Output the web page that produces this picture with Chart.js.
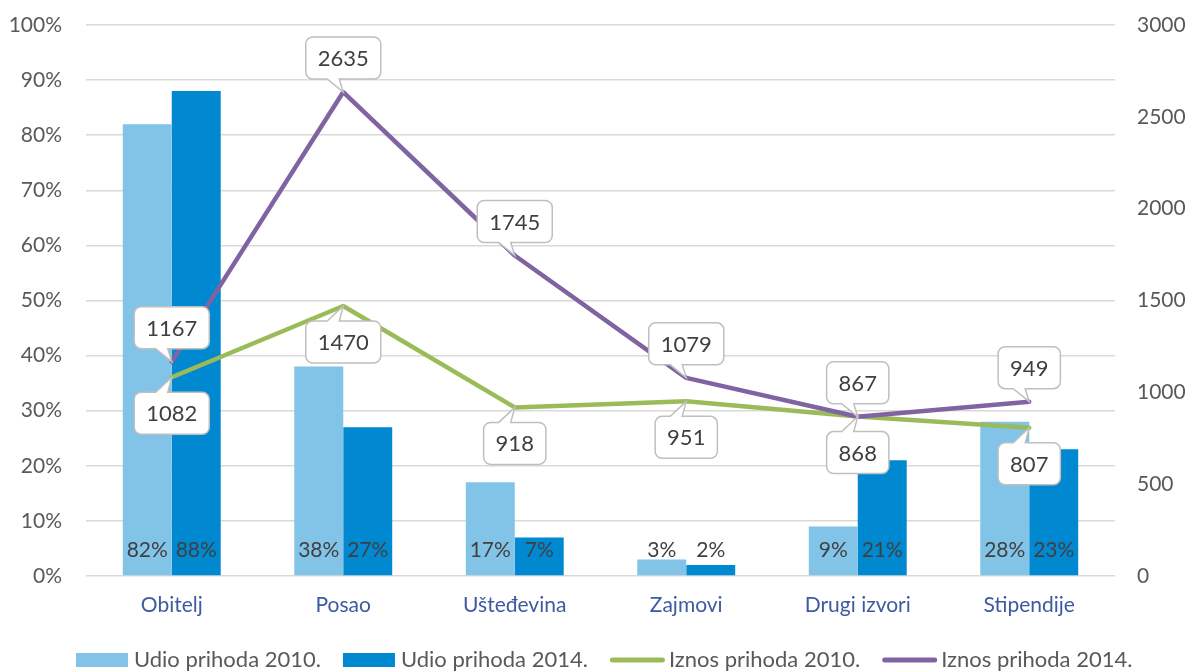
<!DOCTYPE html>
<html><head><meta charset="utf-8">
<script src="https://cdn.jsdelivr.net/npm/chart.js@4"></script>
<style>html,body{margin:0;padding:0;background:#fff;overflow:hidden;}</style>
</head><body>
<canvas id="c" width="1189" height="671" style="width:1189px;height:671px;display:block"></canvas>
<script>
const categories = ['Obitelj', 'Posao', 'Ušteđevina', 'Zajmovi', 'Drugi izvori', 'Stipendije'];
const share2010 = [82, 38, 17, 3, 9, 28];
const share2014 = [88, 27, 7, 2, 21, 23];
const amount2010 = [1082, 1470, 918, 951, 868, 807];
const amount2014 = [1167, 2635, 1745, 1079, 867, 949];
const seriesNames = ['Udio prihoda 2010.', 'Udio prihoda 2014.', 'Iznos prihoda 2010.', 'Iznos prihoda 2014.'];
const leftTicks = [0, 10, 20, 30, 40, 50, 60, 70, 80, 90, 100];
const rightTicks = [0, 500, 1000, 1500, 2000, 2500, 3000];

const FONT = 'Lato';
const FS = 21;
const LFS = 22;
const colors = ['#82C3E8', '#0088D1', '#9BBB59', '#8064A2'];

const barLabels = {
  id: 'barLabels',
  afterDatasetsDraw(chart) {
    const ctx = chart.ctx;
    const base = chart.scales.y.getPixelForValue(0);
    ctx.save();
    ctx.font = FS + 'px ' + FONT;
    ctx.fillStyle = '#404040';
    ctx.textAlign = 'center';
    ctx.textBaseline = 'middle';
    [0, 1].forEach(di => {
      const meta = chart.getDatasetMeta(di);
      meta.data.forEach((el, i) => {
        ctx.fillText(chart.data.datasets[di].data[i] + '%', el.x, base - 26);
      });
    });
    ctx.restore();
  }
};

function calloutPath(ctx, x0, y0, w, h, r, px, py, above) {
  const x1 = x0 + w, y1 = y0 + h;
  const nL = px - 16, nR = px - 4;
  ctx.beginPath();
  ctx.moveTo(x0 + r, y0);
  if (!above) { ctx.lineTo(nL, y0); ctx.lineTo(px, py); ctx.lineTo(nR, y0); }
  ctx.lineTo(x1 - r, y0);
  ctx.arcTo(x1, y0, x1, y0 + r, r);
  ctx.lineTo(x1, y1 - r);
  ctx.arcTo(x1, y1, x1 - r, y1, r);
  if (above) { ctx.lineTo(nR, y1); ctx.lineTo(px, py); ctx.lineTo(nL, y1); }
  ctx.lineTo(x0 + r, y1);
  ctx.arcTo(x0, y1, x0, y1 - r, r);
  ctx.lineTo(x0, y0 + r);
  ctx.arcTo(x0, y0, x0 + r, y0, r);
  ctx.closePath();
}

const callouts = {
  id: 'callouts',
  afterDatasetsDraw(chart) {
    const ctx = chart.ctx;
    ctx.save();
    ctx.font = LFS + 'px ' + FONT;
    [[2, false], [3, true]].forEach(([di, above]) => {
      const meta = chart.getDatasetMeta(di);
      meta.data.forEach((el, i) => {
        const txt = String(chart.data.datasets[di].data[i]);
        const w = ctx.measureText(txt).width + 24;
        const h = 42;
        const x0 = el.x - w / 2;
        const y0 = above ? el.y - 13 - h : el.y + 15;
        calloutPath(ctx, x0, y0, w, h, 7, el.x, el.y, above);
        ctx.fillStyle = '#FFFFFF';
        ctx.fill();
        ctx.strokeStyle = '#BFBFBF';
        ctx.lineWidth = 1.5;
        ctx.stroke();
        ctx.fillStyle = '#404040';
        ctx.textAlign = 'center';
        ctx.textBaseline = 'middle';
        ctx.fillText(txt, el.x, y0 + h / 2 + 1);
      });
    });
    ctx.restore();
  }
};

const customLegend = {
  id: 'customLegend',
  afterDraw(chart) {
    const ctx = chart.ctx;
    ctx.save();
    ctx.font = LFS + 'px ' + FONT;
    let x = 76;
    const y = 660;
    seriesNames.forEach((n, i) => {
      let mw, gap;
      if (i < 2) {
        mw = 52; gap = 6;
        ctx.fillStyle = colors[i];
        ctx.fillRect(x, y - 7, mw, 14);
      } else {
        mw = 55; gap = 4;
        ctx.strokeStyle = colors[i];
        ctx.lineWidth = 5;
        ctx.lineCap = 'round';
        ctx.beginPath();
        ctx.moveTo(x + 2.5, y);
        ctx.lineTo(x + mw - 2.5, y);
        ctx.stroke();
      }
      ctx.fillStyle = '#595959';
      ctx.textAlign = 'left';
      ctx.textBaseline = 'middle';
      ctx.fillText(n, x + mw + gap, y);
      x += mw + gap + ctx.measureText(n).width + 22;
    });
    ctx.restore();
  }
};

new Chart(document.getElementById('c'), {
  data: {
    labels: categories,
    datasets: [
      { type: 'bar', label: seriesNames[0], data: share2010, backgroundColor: colors[0], yAxisID: 'y', order: 2,
        categoryPercentage: 0.571, barPercentage: 1.0 },
      { type: 'bar', label: seriesNames[1], data: share2014, backgroundColor: colors[1], yAxisID: 'y', order: 2,
        categoryPercentage: 0.571, barPercentage: 1.0 },
      { type: 'line', label: seriesNames[2], data: amount2010, borderColor: colors[2], backgroundColor: colors[2],
        borderWidth: 4.5, pointRadius: 0, tension: 0, yAxisID: 'y1', order: 1, borderCapStyle: 'round', borderJoinStyle: 'round' },
      { type: 'line', label: seriesNames[3], data: amount2014, borderColor: colors[3], backgroundColor: colors[3],
        borderWidth: 4.5, pointRadius: 0, tension: 0, yAxisID: 'y1', order: 0, borderCapStyle: 'round', borderJoinStyle: 'round' }
    ]
  },
  options: {
    responsive: false,
    animation: false,
    devicePixelRatio: 1,
    layout: { padding: { top: 25, bottom: 30, left: 0, right: 0 } },
    plugins: { legend: { display: false }, tooltip: { enabled: false } },
    scales: {
      x: {
        grid: { display: false, drawTicks: false },
        border: { display: false },
        ticks: { font: { family: FONT, size: FS }, color: '#3E5AA0', padding: 17, maxRotation: 0 },
        afterFit(s) { s.height = 65; }
      },
      y: {
        position: 'left',
        min: 0, max: 100,
        afterBuildTicks(s) { s.ticks = leftTicks.map(v => ({ value: v })); },
        ticks: { font: { family: FONT, size: FS }, color: '#595959', padding: 2, callback: v => v + '%' },
        grid: { color: '#D9D9D9', lineWidth: 1.5, drawTicks: true, tickLength: 22, tickColor: 'rgba(0,0,0,0)' },
        border: { display: false },
        afterFit(s) { s.width = 86; }
      },
      y1: {
        position: 'right',
        min: 0, max: 3000,
        afterBuildTicks(s) { s.ticks = rightTicks.map(v => ({ value: v })); },
        ticks: { font: { family: FONT, size: FS }, color: '#595959', padding: 2, callback: v => String(v) },
        grid: { display: false, drawTicks: true, tickLength: 20 },
        border: { display: false },
        afterFit(s) { s.width = 74; }
      }
    }
  },
  plugins: [barLabels, callouts, customLegend]
});
</script>
</body></html>
